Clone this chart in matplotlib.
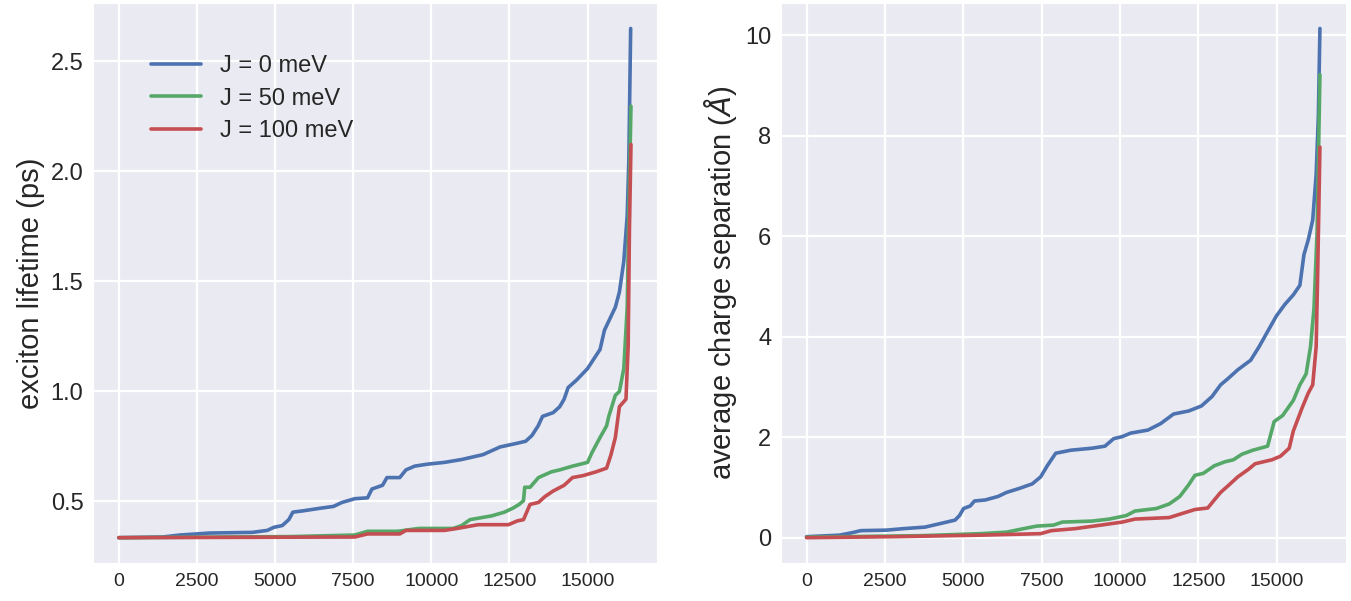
import numpy as np
import matplotlib.pyplot as plt
import seaborn as sns

sns.set_style('darkgrid')
plt.rcParams['font.family'] = ['Liberation Sans', 'DejaVu Sans']
plt.rcParams['grid.linewidth'] = 1.6

# left panel : exciton lifetime (ps), sorted trajectories
x_l0 = [0, 1400, 1950, 2900, 4270, 4750, 4960, 5230, 5440, 5570, 5900, 6460, 6870, 7140, 7550,
        7960, 8100, 8440, 8580, 8990, 9190, 9470, 9880, 10420, 10970, 11650, 12200, 12750, 13020,
        13220, 13420, 13560, 13900, 14110, 14250, 14380, 14650, 15000, 15400, 15540, 15890, 16020,
        16160, 16270, 16320, 16380]
y_l0 = [0.335, 0.338, 0.347, 0.356, 0.359, 0.368, 0.382, 0.390, 0.417, 0.451, 0.457, 0.469, 0.477,
        0.495, 0.512, 0.516, 0.556, 0.573, 0.608, 0.608, 0.643, 0.660, 0.669, 0.677, 0.690, 0.712,
        0.747, 0.764, 0.773, 0.799, 0.843, 0.886, 0.903, 0.930, 0.964, 1.017, 1.051, 1.103, 1.190,
        1.277, 1.382, 1.451, 1.590, 1.799, 2.043, 2.648]

x_l50 = [0, 5500, 7550, 7960, 8920, 9600, 10700, 10970, 11240, 11930, 12340, 12610, 12810, 12950,
         12990, 13160, 13430, 13840, 14110, 14520, 15000, 15140, 15400, 15610, 15680, 15890, 16020,
         16160, 16270, 16310, 16390]
y_l50 = [0.335, 0.340, 0.347, 0.364, 0.364, 0.377, 0.377, 0.390, 0.417, 0.434, 0.451, 0.469, 0.486,
         0.503, 0.564, 0.564, 0.608, 0.634, 0.643, 0.660, 0.677, 0.721, 0.790, 0.843, 0.886, 0.982,
         0.999, 1.103, 1.382, 1.730, 2.295]

x_l100 = [0, 7550, 7960, 8990, 9190, 10420, 10830, 11500, 12470, 12750, 12950, 13160, 13430, 13630,
          13900, 14250, 14520, 14860, 15270, 15610, 15750, 15890, 16020, 16230, 16300, 16340, 16390]
y_l100 = [0.335, 0.338, 0.352, 0.352, 0.368, 0.368, 0.377, 0.394, 0.394, 0.411, 0.417, 0.486, 0.495,
          0.521, 0.547, 0.573, 0.608, 0.617, 0.634, 0.651, 0.712, 0.790, 0.930, 0.964, 1.208, 1.730,
          2.121]

# right panel : average charge separation (Angstrom)
x_r0 = [0, 1050, 1460, 1730, 2550, 3100, 3780, 4330, 4740, 4880, 5010, 5220, 5360, 5700, 6110, 6380,
        6790, 7200, 7470, 7680, 7950, 8430, 9110, 9520, 9800, 10070, 10340, 10890, 11300, 11710,
        12190, 12600, 12940, 13210, 13420, 13760, 14170, 14440, 14710, 14990, 15260, 15530, 15740,
        15870, 16010, 16150, 16260, 16330, 16380]
y_r0 = [0.02, 0.05, 0.10, 0.14, 0.15, 0.18, 0.21, 0.29, 0.35, 0.44, 0.58, 0.63, 0.73, 0.75, 0.82, 0.90,
        0.98, 1.07, 1.21, 1.43, 1.68, 1.74, 1.78, 1.82, 1.97, 2.01, 2.08, 2.14, 2.27, 2.46, 2.52, 2.62,
        2.81, 3.04, 3.15, 3.34, 3.53, 3.80, 4.10, 4.41, 4.64, 4.83, 5.02, 5.63, 5.93, 6.32, 7.23, 8.38,
        10.13]

x_r50 = [0, 3650, 5560, 6380, 6930, 7340, 7880, 8160, 9110, 9660, 10200, 10480, 11160, 11570, 11910,
         12190, 12390, 12660, 13010, 13350, 13620, 13890, 14240, 14710, 14920, 15190, 15530, 15740,
         15940, 16080, 16190, 16290, 16380]
y_r50 = [0.01, 0.04, 0.08, 0.11, 0.18, 0.23, 0.25, 0.31, 0.33, 0.37, 0.44, 0.53, 0.58, 0.67, 0.82,
         1.05, 1.24, 1.28, 1.43, 1.51, 1.55, 1.66, 1.74, 1.82, 2.31, 2.43, 2.73, 3.04, 3.26, 3.80,
         4.56, 6.09, 9.21]

x_r100 = [0, 2830, 5560, 7470, 7810, 8570, 9390, 10070, 10480, 11570, 11980, 12390, 12800, 13010,
          13210, 13480, 13760, 14100, 14310, 14850, 15120, 15400, 15530, 15810, 16010, 16150, 16260,
          16310, 16380]
y_r100 = [0.0, 0.02, 0.05, 0.08, 0.14, 0.18, 0.25, 0.31, 0.37, 0.40, 0.48, 0.56, 0.59, 0.75, 0.90,
          1.05, 1.21, 1.36, 1.47, 1.55, 1.62, 1.78, 2.12, 2.58, 2.88, 3.04, 3.80, 5.32, 7.77]

labels = ['J = 0 meV', 'J = 50 meV', 'J = 100 meV']
colors = ['#4C72B0', '#55A868', '#C44E52']

fig = plt.figure(figsize=(13.51, 6.01), dpi=100)
ax1 = fig.add_axes([0.069, 0.063, 0.417, 0.932])
ax2 = fig.add_axes([0.578, 0.063, 0.418, 0.932])

for xs, ys, c, lab in zip([x_l0, x_l50, x_l100], [y_l0, y_l50, y_l100], colors, labels):
    ax1.plot(xs, ys, color=c, lw=2.6, label=lab)
for xs, ys, c in zip([x_r0, x_r50, x_r100], [y_r0, y_r50, y_r100], colors):
    ax2.plot(xs, ys, color=c, lw=2.6)

ax1.set_ylabel('exciton lifetime (ps)', fontsize=21)
ax2.set_ylabel('average charge separation ($\\AA$)', fontsize=21)
ax1.set_yticks([0.5, 1.0, 1.5, 2.0, 2.5])
ax2.set_yticks([0, 2, 4, 6, 8, 10])

for ax in (ax1, ax2):
    ax.set_xticks([0, 2500, 5000, 7500, 10000, 12500, 15000])
    ax.tick_params(axis='y', labelsize=17)
    ax.tick_params(axis='x', labelsize=14)

ax1.legend(loc='upper left', bbox_to_anchor=(0.065, 0.945), fontsize=17, frameon=False,
           handlelength=2.1, labelspacing=0.45)

plt.savefig('out.png')
